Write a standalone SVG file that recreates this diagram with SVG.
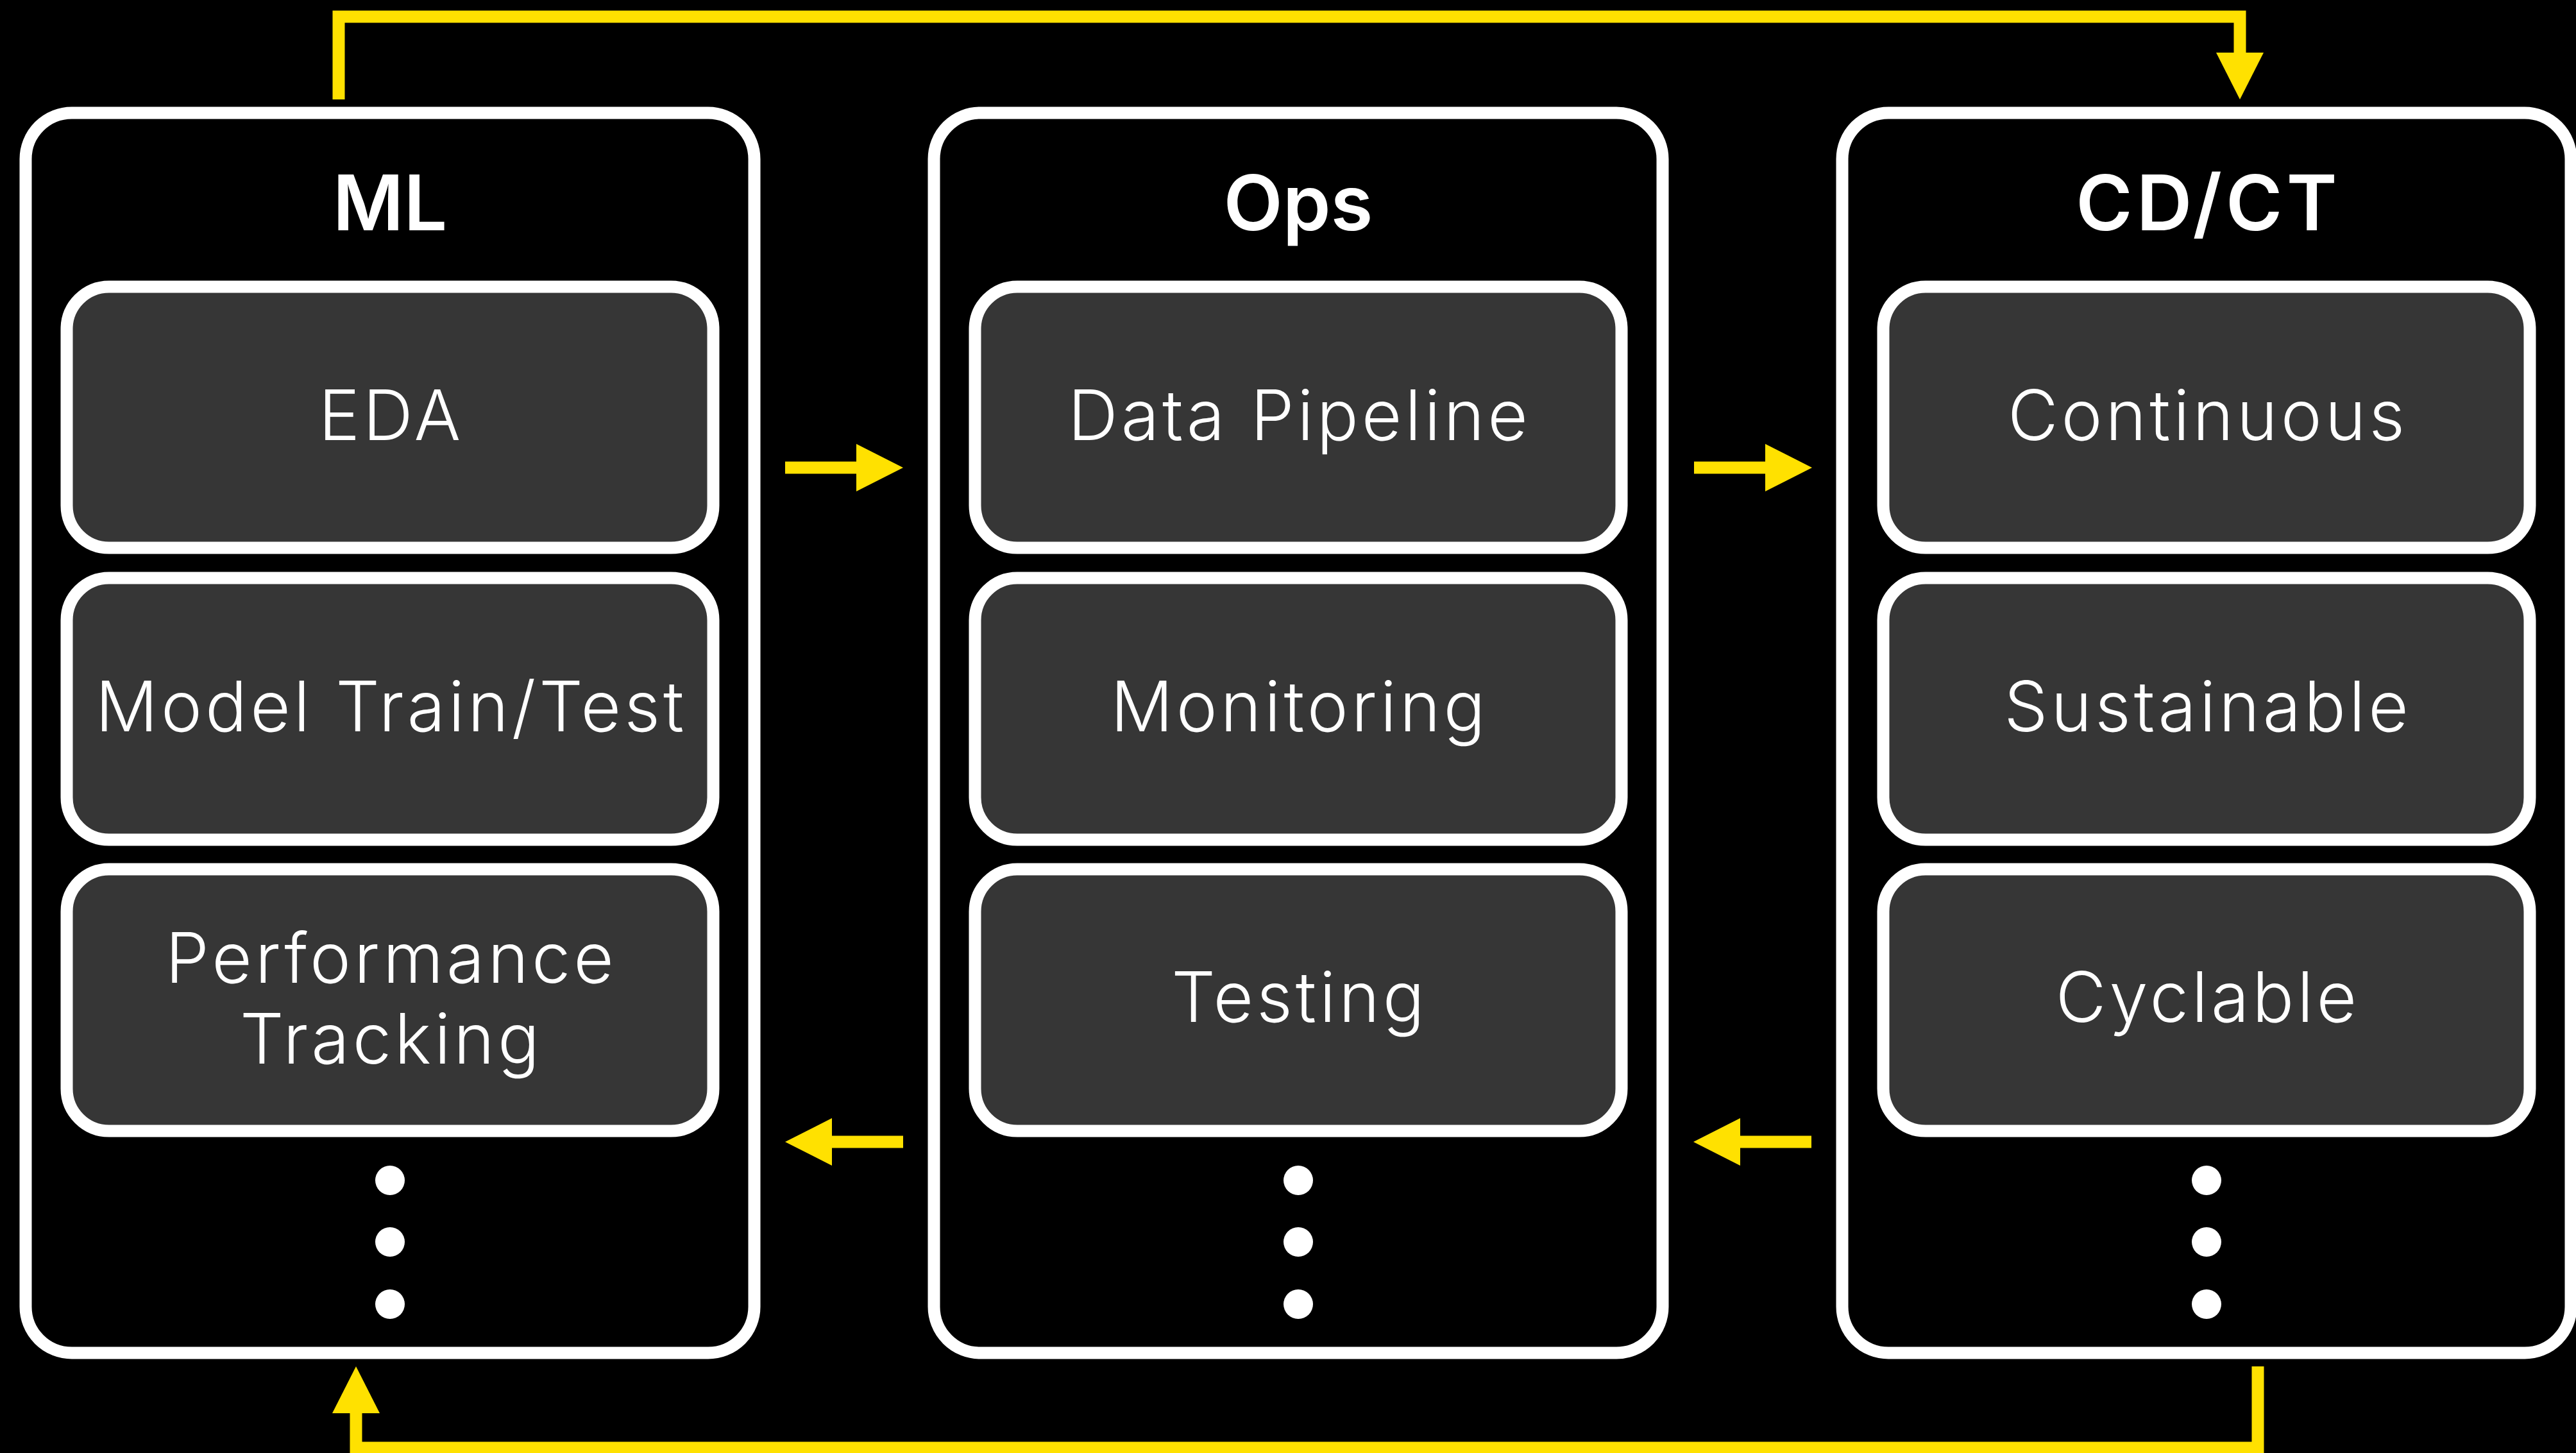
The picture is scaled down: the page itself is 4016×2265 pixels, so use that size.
<svg xmlns="http://www.w3.org/2000/svg" width="4016" height="2265" viewBox="0 0 4016 2265">
<style>
.outer{fill:#000;stroke:#fff;stroke-width:19}
.inner{fill:#363636;stroke:#fff;stroke-width:19}
.title{font-family:Inter,Roboto,"Liberation Sans",sans-serif;font-size:120px;font-weight:600;fill:#fff;text-anchor:middle}
.label{font-family:Inter,Roboto,"Liberation Sans",sans-serif;font-size:108px;font-weight:300;fill:#fff;text-anchor:middle;letter-spacing:5px}
.dot{fill:#fff}
.conn{fill:none;stroke:#FFE100;stroke-width:19;stroke-linejoin:miter;stroke-linecap:butt}
</style>
<defs>
<marker id="ah" markerUnits="userSpaceOnUse" markerWidth="74" markerHeight="74" refX="0" refY="37" orient="auto" viewBox="0 0 74 74">
<path d="M0,0 L73,37 L0,74 z" fill="#FFE100"/>
</marker>
</defs>
<rect width="4016" height="2265" fill="#000"/>
<g id="connectors">
<path class="conn" d="M528,155 V26 H3492 V82" marker-end="url(#ah)"/>
<path class="conn" d="M3520,2130 V2257 H555 V2203" marker-end="url(#ah)"/>
<path class="conn" d="M1224,729 H1335" marker-end="url(#ah)"/>
<path class="conn" d="M2641,729 H2752" marker-end="url(#ah)"/>
<path class="conn" d="M1408,1780 H1297" marker-end="url(#ah)"/>
<path class="conn" d="M2824,1780 H2713" marker-end="url(#ah)"/>
</g>
<g id="ml">
<rect class="outer" x="40" y="176" width="1136" height="1933" rx="72"/>
<text class="title" x="608" y="359">ML</text>
<g id="ml-eda"><rect class="inner" x="104" y="447" width="1008" height="407" rx="66"/><text class="label" x="610" y="686">EDA</text></g>
<g id="ml-train"><rect class="inner" x="104" y="901" width="1008" height="408" rx="66"/><text class="label" x="610" y="1140">Model Train/Test</text></g>
<g id="ml-perf"><rect class="inner" x="104" y="1355" width="1008" height="408" rx="66"/><text class="label" x="610" y="1532">Performance</text><text class="label" x="610" y="1658">Tracking</text></g>
<circle class="dot" cx="608" cy="1840" r="23"/><circle class="dot" cx="608" cy="1936" r="23"/><circle class="dot" cx="608" cy="2033" r="23"/>
</g>
<g id="ops">
<rect class="outer" x="1456" y="176" width="1136" height="1933" rx="72"/>
<text class="title" x="2024" y="359">Ops</text>
<g id="ops-data"><rect class="inner" x="1520" y="447" width="1008" height="407" rx="66"/><text class="label" x="2026" y="686">Data Pipeline</text></g>
<g id="ops-mon"><rect class="inner" x="1520" y="901" width="1008" height="408" rx="66"/><text class="label" x="2026" y="1140">Monitoring</text></g>
<g id="ops-test"><rect class="inner" x="1520" y="1355" width="1008" height="408" rx="66"/><text class="label" x="2026" y="1593">Testing</text></g>
<circle class="dot" cx="2024" cy="1840" r="23"/><circle class="dot" cx="2024" cy="1936" r="23"/><circle class="dot" cx="2024" cy="2033" r="23"/>
</g>
<g id="cdct">
<rect class="outer" x="2872" y="176" width="1136" height="1933" rx="72"/>
<text class="title" x="3443" y="359" letter-spacing="6">CD/CT</text>
<g id="cd-cont"><rect class="inner" x="2936" y="447" width="1008" height="407" rx="66"/><text class="label" x="3442" y="686">Continuous</text></g>
<g id="cd-sus"><rect class="inner" x="2936" y="901" width="1008" height="408" rx="66"/><text class="label" x="3442" y="1140">Sustainable</text></g>
<g id="cd-cyc"><rect class="inner" x="2936" y="1355" width="1008" height="408" rx="66"/><text class="label" x="3442" y="1593">Cyclable</text></g>
<circle class="dot" cx="3440" cy="1840" r="23"/><circle class="dot" cx="3440" cy="1936" r="23"/><circle class="dot" cx="3440" cy="2033" r="23"/>
</g>
</svg>
